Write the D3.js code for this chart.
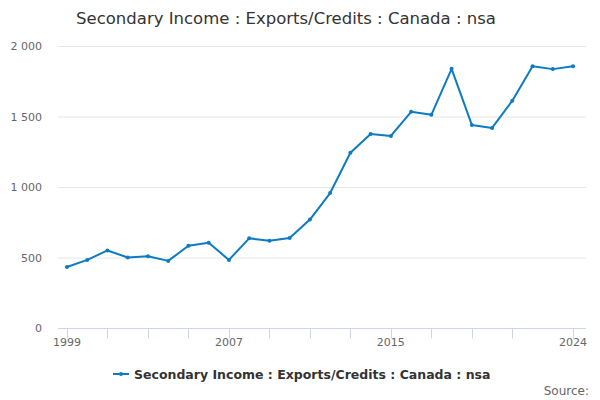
<!DOCTYPE html>
<html><head><meta charset="utf-8">
<script src="https://cdn.jsdelivr.net/npm/d3@7"></script>
<style>body{margin:0;background:#fff}svg{display:block;font-family:"DejaVu Sans",sans-serif}</style>
</head><body><svg id="c" width="600" height="400"></svg>
<script>
const title = "Secondary Income : Exports/Credits : Canada : nsa";
const years = [1999,2000,2001,2002,2003,2004,2005,2006,2007,2008,2009,2010,2011,2012,2013,2014,2015,2016,2017,2018,2019,2020,2021,2022,2023,2024];
const values = [433,483,550,500,509,476,583,604,483,636,619,638,769,957,1243,1376,1362,1533,1512,1838,1440,1419,1612,1857,1836,1857];
const yTicks = [0,500,1000,1500,2000];
const xTicks = [1999,2001,2003,2005,2007,2009,2011,2013,2015,2017,2019,2021,2024];
const xLabels = [1999,2007,2015,2024];

const svg = d3.select("#c");
const L = 58, R = 586, T = 46, B = 328;
const x = d3.scaleLinear().domain([1998.555, 2024.64]).range([L, R]);
const y = d3.scaleLinear().domain([0, 2000]).range([B, T]);
const fmt = v => d3.format(",")(v).replace(/,/g, " ");

svg.append("text").attr("x", 286).attr("y", 24).attr("text-anchor", "middle")
  .attr("font-size", 16.5).attr("fill", "#333").text(title);

// gridlines
svg.append("g").selectAll("line").data(yTicks.filter(d => d > 0)).join("line")
  .attr("x1", L).attr("x2", R).attr("y1", d => y(d) + 0.5).attr("y2", d => y(d) + 0.5)
  .attr("stroke", "#e6e6e6");
svg.append("g").selectAll("text").data(yTicks).join("text")
  .attr("x", 42).attr("y", d => y(d) + 4).attr("text-anchor", "end")
  .attr("font-size", 11).attr("fill", "#666").text(fmt);

// x axis
const xg = svg.append("g").attr("transform", `translate(0,${B + 0.5})`);
xg.append("line").attr("x1", L).attr("x2", R).attr("stroke", "#ccd6eb");
xg.selectAll(".tk").data(xTicks).join("line").attr("class", "tk")
  .attr("x1", d => Math.round(x(d)) + 0.5).attr("x2", d => Math.round(x(d)) + 0.5)
  .attr("y1", 0).attr("y2", 10).attr("stroke", "#ccd6eb");
xg.selectAll("text").data(xLabels).join("text")
  .attr("x", d => x(d)).attr("y", 17).attr("text-anchor", "middle")
  .attr("font-size", 11).attr("fill", "#666").text(d => d);

// series
const col = "#0d7bc1";
const data = years.map((yr, i) => ({yr, v: values[i]}));
svg.append("path").datum(data)
  .attr("d", d3.line().x(d => x(d.yr)).y(d => y(d.v)))
  .attr("fill", "none").attr("stroke", col).attr("stroke-width", 2).attr("stroke-linejoin", "round");
svg.append("g").selectAll("circle").data(data).join("circle")
  .attr("cx", d => x(d.yr)).attr("cy", d => y(d.v)).attr("r", 2).attr("fill", col);

// legend
const lg = svg.append("g");
lg.append("line").attr("x1", 113).attr("x2", 129).attr("y1", 374).attr("y2", 374)
  .attr("stroke", col).attr("stroke-width", 2);
lg.append("circle").attr("cx", 121).attr("cy", 374).attr("r", 2).attr("fill", col);
lg.append("text").attr("x", 134).attr("y", 378.5).attr("font-size", 12.5).attr("font-weight", "bold")
  .attr("fill", "#333").text(title);

svg.append("text").attr("x", 589).attr("y", 395).attr("text-anchor", "end")
  .attr("font-size", 12).attr("fill", "#666").text("Source:");
</script></body></html>
